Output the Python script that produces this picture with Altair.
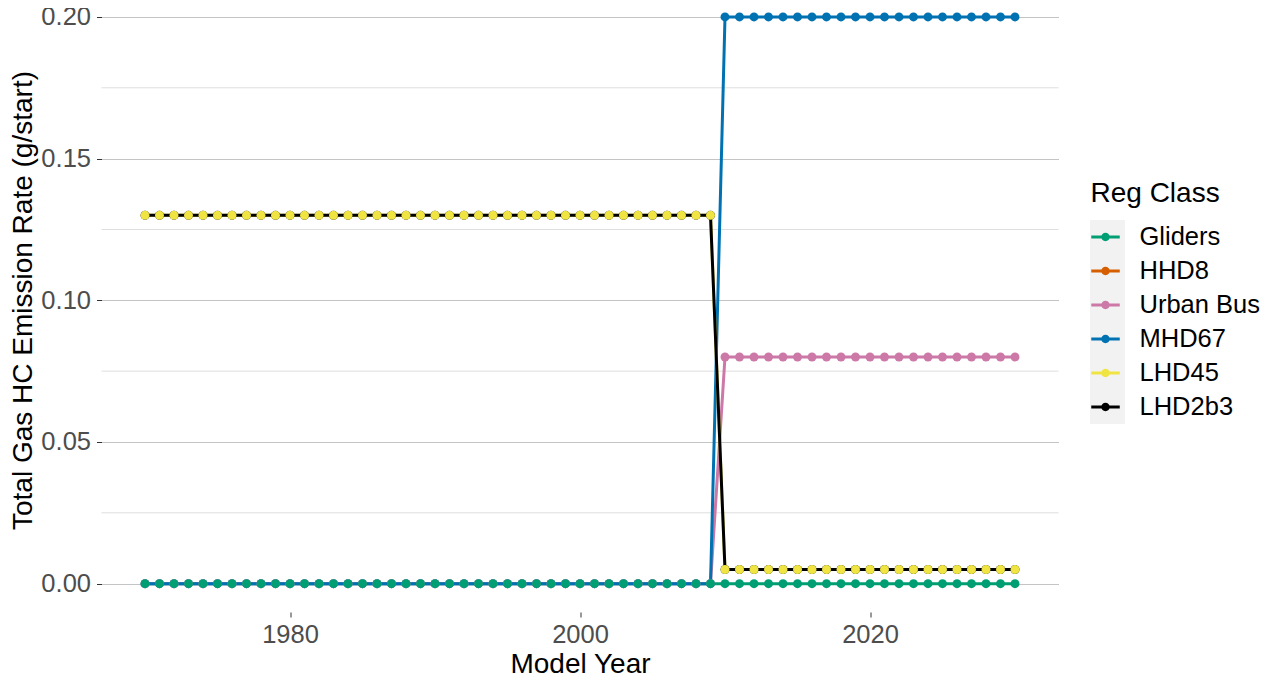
import altair as alt
import pandas as pd

# ---- data ----
years = list(range(1970, 2031))  # 61 model years

classes = ["Gliders", "HHD8", "Urban Bus", "MHD67", "LHD45", "LHD2b3"]
colors = ["#009E73", "#D55E00", "#CC79A7", "#0072B2", "#F0E442", "#000000"]

gliders = [
    0, 0, 0, 0, 0, 0, 0, 0, 0, 0,
    0, 0, 0, 0, 0, 0, 0, 0, 0, 0,
    0, 0, 0, 0, 0, 0, 0, 0, 0, 0,
    0, 0, 0, 0, 0, 0, 0, 0, 0, 0,
    0, 0, 0, 0, 0, 0, 0, 0, 0, 0,
    0, 0, 0, 0, 0, 0, 0, 0, 0, 0,
    0,
]
urban_bus = [
    0, 0, 0, 0, 0, 0, 0, 0, 0, 0,
    0, 0, 0, 0, 0, 0, 0, 0, 0, 0,
    0, 0, 0, 0, 0, 0, 0, 0, 0, 0,
    0, 0, 0, 0, 0, 0, 0, 0, 0, 0,
    0.08, 0.08, 0.08, 0.08, 0.08, 0.08, 0.08, 0.08, 0.08, 0.08,
    0.08, 0.08, 0.08, 0.08, 0.08, 0.08, 0.08, 0.08, 0.08, 0.08,
    0.08,
]
mhd67 = [
    0, 0, 0, 0, 0, 0, 0, 0, 0, 0,
    0, 0, 0, 0, 0, 0, 0, 0, 0, 0,
    0, 0, 0, 0, 0, 0, 0, 0, 0, 0,
    0, 0, 0, 0, 0, 0, 0, 0, 0, 0,
    0.2, 0.2, 0.2, 0.2, 0.2, 0.2, 0.2, 0.2, 0.2, 0.2,
    0.2, 0.2, 0.2, 0.2, 0.2, 0.2, 0.2, 0.2, 0.2, 0.2,
    0.2,
]
lhd45 = [
    0.13, 0.13, 0.13, 0.13, 0.13, 0.13, 0.13, 0.13, 0.13, 0.13,
    0.13, 0.13, 0.13, 0.13, 0.13, 0.13, 0.13, 0.13, 0.13, 0.13,
    0.13, 0.13, 0.13, 0.13, 0.13, 0.13, 0.13, 0.13, 0.13, 0.13,
    0.13, 0.13, 0.13, 0.13, 0.13, 0.13, 0.13, 0.13, 0.13, 0.13,
    0.005, 0.005, 0.005, 0.005, 0.005, 0.005, 0.005, 0.005, 0.005, 0.005,
    0.005, 0.005, 0.005, 0.005, 0.005, 0.005, 0.005, 0.005, 0.005, 0.005,
    0.005,
]
lhd2b3 = [
    0.13, 0.13, 0.13, 0.13, 0.13, 0.13, 0.13, 0.13, 0.13, 0.13,
    0.13, 0.13, 0.13, 0.13, 0.13, 0.13, 0.13, 0.13, 0.13, 0.13,
    0.13, 0.13, 0.13, 0.13, 0.13, 0.13, 0.13, 0.13, 0.13, 0.13,
    0.13, 0.13, 0.13, 0.13, 0.13, 0.13, 0.13, 0.13, 0.13, 0.13,
    0.005, 0.005, 0.005, 0.005, 0.005, 0.005, 0.005, 0.005, 0.005, 0.005,
    0.005, 0.005, 0.005, 0.005, 0.005, 0.005, 0.005, 0.005, 0.005, 0.005,
    0.005,
]

y_ticks = [0.0, 0.05, 0.10, 0.15, 0.20]
y_minor = [0.025, 0.075, 0.125, 0.175]
x_ticks = [1980, 2000, 2020]

series = {
    "Gliders": gliders,
    "Urban Bus": urban_bus,
    "MHD67": mhd67,
    "LHD45": lhd45,
    "LHD2b3": lhd2b3,
}

rows = []
for name, vals in series.items():
    for yr, v in zip(years, vals):
        rows.append({"year": yr, "rate": v, "cls": name})
df = pd.DataFrame(rows)

line_order = ["Gliders", "Urban Bus", "MHD67", "LHD45", "LHD2b3"]
point_order = list(reversed(line_order))
df_pts = pd.concat([df[df["cls"] == n] for n in point_order], ignore_index=True)

FONT = "Liberation Sans"
W, H = 957, 601
LABEL_FS = 25.5
TITLE_FS = 28

x_enc = alt.X(
    "year:Q",
    scale=alt.Scale(domain=[1967, 2033], nice=False, zero=False),
    axis=alt.Axis(
        values=x_ticks, format="d", grid=False, domain=False,
        tickSize=5, tickColor="#333333", labelPadding=5,
        labelFontSize=LABEL_FS, labelColor="#4D4D4D", labelFont=FONT,
        title="Model Year", titleFontSize=TITLE_FS, titleFont=FONT,
        titleFontWeight="normal", titleColor="black",
        titleY=52, titleBaseline="middle",
    ),
)
y_enc = alt.Y(
    "rate:Q",
    scale=alt.Scale(domain=[-0.01, 0.2021], nice=False, zero=False),
    axis=alt.Axis(
        values=y_ticks, format=".2f", grid=True, gridColor="#C4C4C4",
        gridWidth=1.1, domain=False,
        tickSize=5, tickColor="#333333", labelPadding=6,
        labelFontSize=LABEL_FS, labelColor="#4D4D4D", labelFont=FONT,
        title="Total Gas HC Emission Rate (g/start)", titleFontSize=TITLE_FS,
        titleFont=FONT, titleFontWeight="normal", titleColor="black",
        titleX=-78.5, titleY=289, titleAngle=-90, titleAlign="center",
        titleBaseline="middle",
    ),
)

color_scale = alt.Scale(domain=classes, range=colors)

legend_symbol = (
    "M-0.95,-0.1L0.95,-0.1L0.95,0.1L-0.95,0.1Z"
    "M-0.28,0A0.28,0.28,0,1,1,0.28,0A0.28,0.28,0,1,1,-0.28,0Z"
)

legend = alt.Legend(
    title="Reg Class", orient="none", legendX=989, legendY=169,
    titleFontSize=TITLE_FS, titleFont=FONT, titleFontWeight="normal",
    titleColor="black", titlePadding=14,
    labelFontSize=LABEL_FS, labelFont=FONT, labelColor="black",
    labelOffset=19, symbolType=legend_symbol, symbolSize=900,
    symbolStrokeWidth=0, symbolOpacity=1, rowPadding=5,
    padding=0,
)

minor = alt.Chart(pd.DataFrame({"rate": y_minor})).mark_rule(
    color="#DEDEDE", strokeWidth=1
).encode(y=alt.Y("rate:Q"))

legend_bg = alt.Chart(pd.DataFrame({"a": [0]})).mark_rect(
    color="#F2F2F2", clip=False
).encode(
    x=alt.value(988.5), x2=alt.value(1023.5),
    y=alt.value(209), y2=alt.value(413),
)

line_layers = []
for n in line_order:
    line_layers.append(
        alt.Chart(df).transform_filter(alt.datum.cls == n).mark_line(
            strokeWidth=3
        ).encode(
            x=x_enc, y=y_enc,
            color=alt.Color("cls:N", scale=color_scale, legend=legend),
        )
    )

points = alt.Chart(df_pts).mark_point(
    filled=True, size=80, opacity=1, strokeWidth=0
).encode(
    x=x_enc, y=y_enc,
    color=alt.Color("cls:N", scale=color_scale, legend=legend),
)

chart = alt.layer(legend_bg, minor, *line_layers, points).properties(
    width=W, height=H,
    autosize=alt.AutoSizeParams(type="none"),
    padding={"left": 93.5, "top": 3, "right": 201.5, "bottom": 64},
).configure(font=FONT).configure_view(stroke=None)

chart.save("out.html", embed_options={"renderer": "svg", "actions": False})
